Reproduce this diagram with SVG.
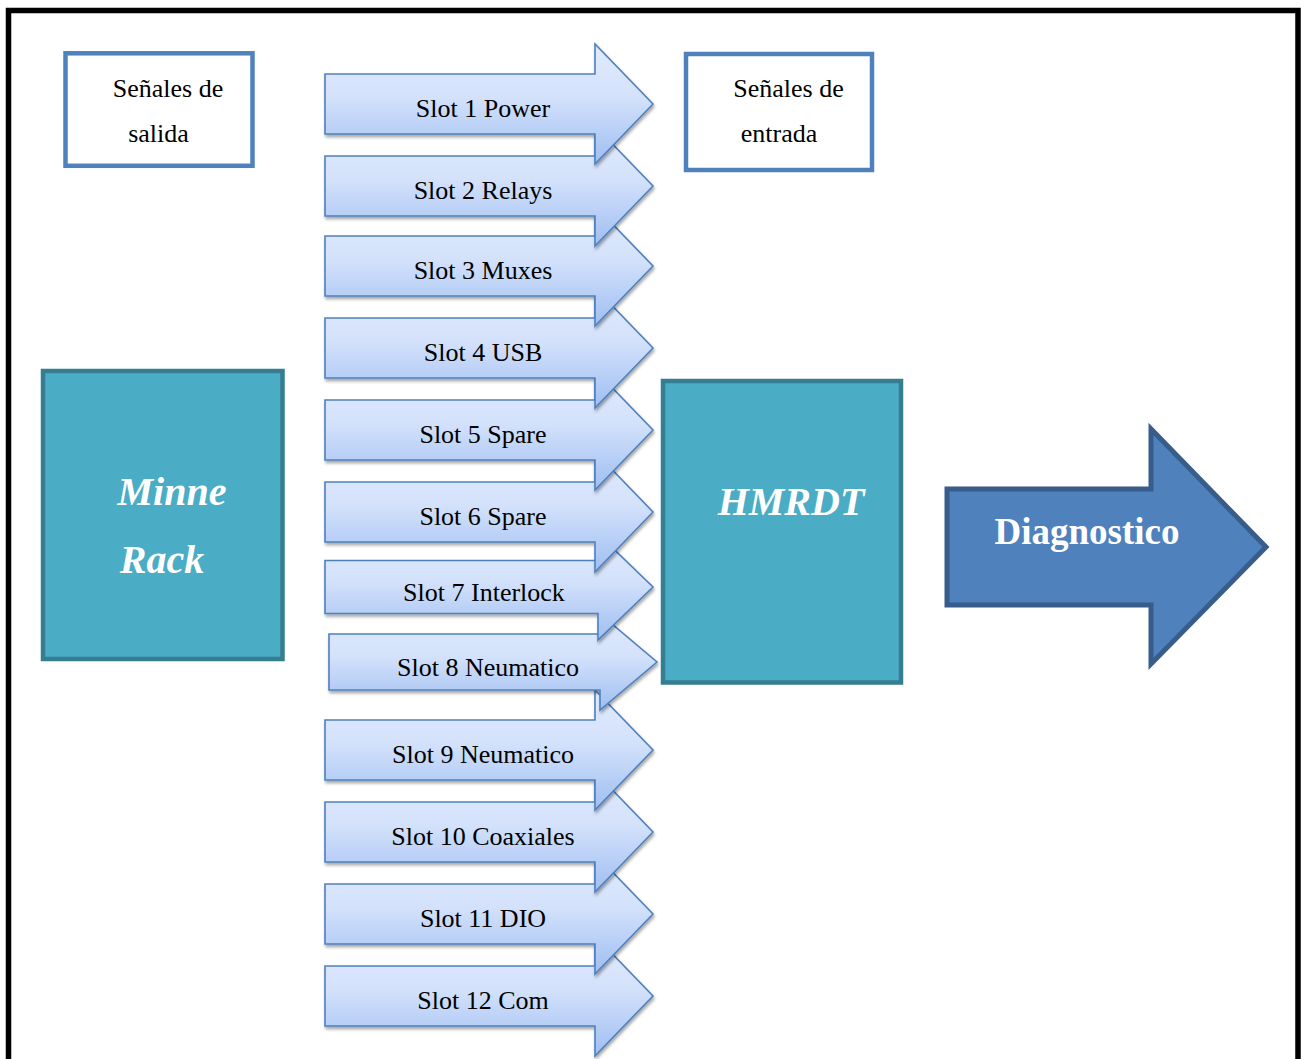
<svg xmlns="http://www.w3.org/2000/svg" xmlns:xlink="http://www.w3.org/1999/xlink" width="1305" height="1059" viewBox="0 0 1305 1059">
  <style>
    .slot { fill: url(#slotGrad); stroke: #4f81bd; stroke-width: 1.6; stroke-linejoin: miter; filter: url(#shadow); }
    .slotText { font-family: "Liberation Serif", "Times New Roman", serif; font-size: 26px; fill: #000; text-anchor: middle; }
    .sigBox { fill: #fff; stroke: #4f81bd; stroke-width: 4.5; }
    .sigText { font-family: "Liberation Serif", "Times New Roman", serif; font-size: 26px; fill: #000; text-anchor: middle; }
    .tealBox { fill: #4bacc6; stroke: #357d90; stroke-width: 4.5; }
    .bigText { font-family: "Liberation Serif", "Times New Roman", serif; font-size: 40px; font-weight: bold; font-style: italic; fill: #fff; text-anchor: middle; }
    .diag { fill: #4f81bd; stroke: #385d8a; stroke-width: 5; stroke-linejoin: miter; }
    .diagText { font-family: "Liberation Serif", "Times New Roman", serif; font-size: 37px; font-weight: bold; fill: #fff; text-anchor: middle; }
  </style>
  <defs>
    <linearGradient id="slotGrad" x1="0" y1="0" x2="0" y2="1">
      <stop offset="0" stop-color="#e2ebfd"/>
      <stop offset="0.45" stop-color="#d3e1fb"/>
      <stop offset="0.75" stop-color="#b6cef6"/>
      <stop offset="1" stop-color="#9fbef1"/>
    </linearGradient>
    <filter id="shadow" x="-5%" y="-10%" width="115%" height="130%">
      <feDropShadow dx="1" dy="2.5" stdDeviation="1.5" flood-color="#000" flood-opacity="0.35"/>
    </filter>
    <path id="slotArrow" d="M325,-30 H595 V-60 L653,0 L595,60 V30 H325 Z"/>
  </defs>

  <rect x="0" y="0" width="1305" height="1059" fill="#fff"/>
  <path d="M8.5,1070 V10.5 H1298 V1070" fill="none" stroke="#000" stroke-width="5.5"/>

  <g id="senales-salida">
    <rect class="sigBox" x="65.5" y="53.3" width="187" height="112.5"/>
    <text class="sigText" x="168" y="97">Señales de</text>
    <text class="sigText" x="158.5" y="142">salida</text>
  </g>

  <g id="senales-entrada">
    <rect class="sigBox" x="686" y="54" width="186" height="116"/>
    <text class="sigText" x="788.5" y="97">Señales de</text>
    <text class="sigText" x="779" y="142">entrada</text>
  </g>

  <g id="minne-rack">
    <rect class="tealBox" x="43" y="371" width="239.5" height="288"/>
    <text class="bigText" x="172" y="505">Minne</text>
    <text class="bigText" x="162" y="573">Rack</text>
  </g>

  <g id="hmrdt">
    <rect class="tealBox" x="663" y="381" width="238" height="301.5"/>
    <text class="bigText" x="791" y="515">HMRDT</text>
  </g>

  <g id="diagnostico">
    <path class="diag" d="M947,489 H1151 V429 L1266,547 L1151,664 V605 H947 Z"/>
    <text class="diagText" x="1087" y="544">Diagnostico</text>
  </g>

  <g id="slots">
    <g id="slot12">
      <use class="slot" xlink:href="#slotArrow" href="#slotArrow" y="996"/>
      <text class="slotText" x="483" y="1009">Slot 12 Com</text>
    </g>
    <g id="slot11">
      <use class="slot" xlink:href="#slotArrow" href="#slotArrow" y="914"/>
      <text class="slotText" x="483" y="927">Slot 11 DIO</text>
    </g>
    <g id="slot10">
      <use class="slot" xlink:href="#slotArrow" href="#slotArrow" y="832"/>
      <text class="slotText" x="483" y="845">Slot 10 Coaxiales</text>
    </g>
    <g id="slot9">
      <use class="slot" xlink:href="#slotArrow" href="#slotArrow" y="750"/>
      <text class="slotText" x="483" y="763">Slot 9 Neumatico</text>
    </g>
    <g id="slot8">
      <path class="slot" d="M329,634 H600 V614 L657,662 L600,710 V690 H329 Z"/>
      <text class="slotText" x="488" y="676">Slot 8 Neumatico</text>
    </g>
    <g id="slot7">
      <path class="slot" d="M325,560.5 H598 V534 L653,587 L598,640 V613.5 H325 Z"/>
      <text class="slotText" x="484" y="601">Slot 7 Interlock</text>
    </g>
    <g id="slot6">
      <use class="slot" xlink:href="#slotArrow" href="#slotArrow" y="512"/>
      <text class="slotText" x="483" y="525">Slot 6 Spare</text>
    </g>
    <g id="slot5">
      <use class="slot" xlink:href="#slotArrow" href="#slotArrow" y="430"/>
      <text class="slotText" x="483" y="443">Slot 5 Spare</text>
    </g>
    <g id="slot4">
      <use class="slot" xlink:href="#slotArrow" href="#slotArrow" y="348"/>
      <text class="slotText" x="483" y="361">Slot 4 USB</text>
    </g>
    <g id="slot3">
      <use class="slot" xlink:href="#slotArrow" href="#slotArrow" y="266"/>
      <text class="slotText" x="483" y="279">Slot 3 Muxes</text>
    </g>
    <g id="slot2">
      <use class="slot" xlink:href="#slotArrow" href="#slotArrow" y="186"/>
      <text class="slotText" x="483" y="199">Slot 2 Relays</text>
    </g>
    <g id="slot1">
      <use class="slot" xlink:href="#slotArrow" href="#slotArrow" y="104"/>
      <text class="slotText" x="483" y="117">Slot 1 Power</text>
    </g>
  </g>
</svg>
